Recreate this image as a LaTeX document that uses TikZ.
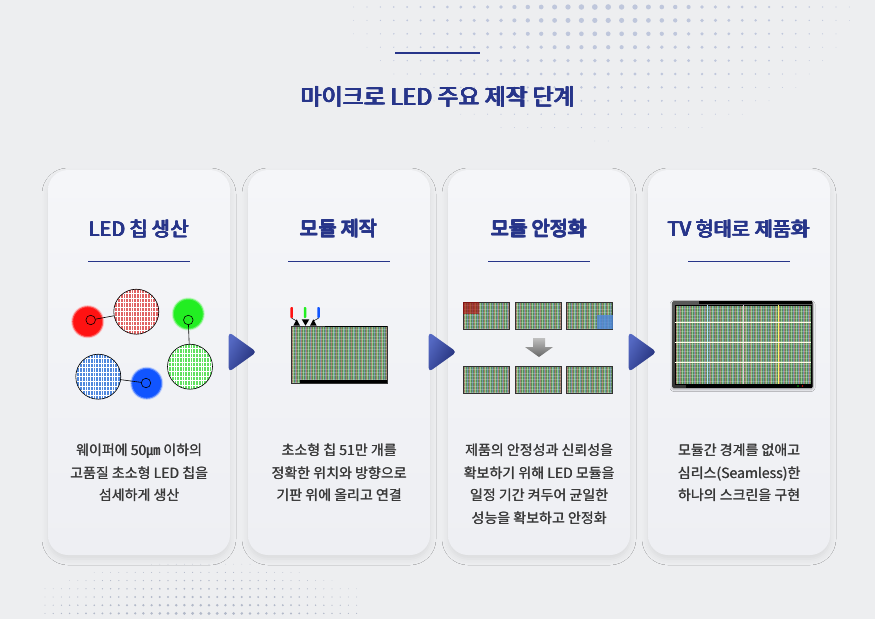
\documentclass[tikz,border=0pt]{standalone}
\usepackage{fontspec}
\setmainfont{Noto Sans CJK KR}
\usetikzlibrary{positioning,calc,shapes.geometric,shadows.blur}

% heavier strokes: text laid over itself, shifted by #1 across and #2 up
\newcommand\heavy[3]{\leavevmode\rlap{#3}\rlap{\hspace{.5\dimexpr#1\relax}#3}\rlap{\hspace{#1}#3}%
  \rlap{\raisebox{#2}{#3}}\rlap{\hspace{.5\dimexpr#1\relax}\raisebox{#2}{#3}}%
  \rlap{\hspace{#1}\raisebox{#2}{#3}}\hspace{#1}\phantom{#3}}

\definecolor{navy}{HTML}{27358A}
\definecolor{arrowlight}{HTML}{5468C2}
\definecolor{bgcol}{HTML}{EDEEF0}
\definecolor{cardtop}{HTML}{F5F6F9}
\definecolor{cardbot}{HTML}{EEEFF3}
\definecolor{dotcol}{HTML}{BFC7DC}
\definecolor{txtcol}{HTML}{383838}
\definecolor{panelcol}{HTML}{5A8858}
\definecolor{stripeR}{HTML}{A57E6C}
\definecolor{stripeG}{HTML}{8CC68A}
\definecolor{stripeB}{HTML}{7192AC}
\definecolor{dotR}{HTML}{FF1212}
\definecolor{dotG}{HTML}{22EE22}
\definecolor{dotB}{HTML}{1155FF}
\definecolor{wafR}{HTML}{E06464}
\definecolor{wafG}{HTML}{60E060}
\definecolor{wafB}{HTML}{4F88DD}

\begin{document}
\begin{tikzpicture}
  [x=1pt,y=-1pt,
   card/.style={rectangle,rounded corners=20pt,minimum width=182pt,minimum height=385pt,
     top color=cardtop,bottom color=cardbot,
     blur shadow={shadow xshift=0pt,shadow yshift=-4pt,shadow blur radius=6pt,shadow opacity=8}},
   cardtitle/.style={font=\fontsize{19.8}{21}\selectfont,text=navy,inner sep=0pt},
   cardtext/.style={font=\fontsize{14}{22.5}\selectfont,text=txtcol,align=center,
     anchor=north,inner sep=0pt},
   steparrow/.style={isosceles triangle,isosceles triangle stretches,minimum width=40pt,
     minimum height=28pt,inner sep=0pt,rounded corners=4pt,
     top color=arrowlight,bottom color=navy!85!black,shading angle=60},
   ledwafer/.style={circle,inner sep=0pt,minimum size=45pt,draw=black,line width=0.6pt,fill=#1,
     path picture={
       \foreach \k in {-9,...,9}
         \draw[white,line width=0.5pt] ([xshift=\k*2.7pt]path picture bounding box.north)
           -- ([xshift=\k*2.7pt]path picture bounding box.south);
       \foreach \k in {-5,...,5}
         \draw[white,line width=0.6pt] ([yshift=\k*4.6pt]path picture bounding box.west)
           -- ([yshift=\k*4.6pt]path picture bounding box.east);}},
   leddot/.style={circle,inner sep=0pt,minimum size=31pt,fill=#1,draw=#1!45!white,
     line width=2pt,draw opacity=0.5},
   ledring/.style={circle,inner sep=0pt,minimum size=9.5pt,draw=black,line width=0.6pt},
   ledbar/.style={rectangle,inner sep=0pt,minimum width=2.5pt,minimum height=11pt,fill=#1,
     rounded corners=0.8pt},
   link/.style={draw=black,line width=0.6pt},
   ledpanel/.style={rectangle,inner sep=0pt,draw=black!80,line width=0.9pt,fill=panelcol,
     path picture={
       \foreach \k in {0,...,85}{
         \pgfmathtruncatemacro\stripe{mod(\k,3)}
         \ifcase\stripe \def\stripecol{stripeR}\or \def\stripecol{stripeG}\else \def\stripecol{stripeB}\fi
         \draw[\stripecol,line width=0.6pt] ([xshift=\k*1.65pt+0.8pt]path picture bounding box.north west)
           -- ([xshift=\k*1.65pt+0.8pt]path picture bounding box.south west);}
       \foreach \k in {1,...,28}
         \draw[white,opacity=0.22,line width=0.45pt] ([yshift=-\k*3.3pt]path picture bounding box.north west)
           -- ([yshift=-\k*3.3pt]path picture bounding box.north east);}},
   tvbezel/.style={rectangle,inner sep=0pt,minimum width=141pt,minimum height=87pt,
     rounded corners=1.5pt,top color=black!65,bottom color=black!80,
     blur shadow={shadow xshift=0pt,shadow yshift=-1.5pt,shadow blur radius=2pt,shadow opacity=30}}]

  % background and dots
  \useasboundingbox (0,0) rectangle (875,619);
  \fill[bgcol] (0,0) rectangle (875,619);
  \foreach \i in {0,...,44}{
    \foreach \j in {0,...,11}{
      \pgfmathsetmacro\dx{300+13.4*\i}
      \pgfmathsetmacro\dy{7+13.4*\j}
      \pgfmathsetmacro\rr{3*(1-sqrt(((\dx-600)/290)*((\dx-600)/290)+(\dy/160)*(\dy/160)))}
      \ifdim\rr pt>0.35pt \fill[dotcol] (\dx,\dy) circle (\rr pt); \fi
    }
  }
  \foreach \i in {0,...,38}{
    \foreach \j in {0,...,8}{
      \pgfmathsetmacro\dx{45+8.2*\i}
      \pgfmathsetmacro\dy{556+8.2*\j}
      \pgfmathsetmacro\rr{1.9*(1-sqrt(((\dx-200)/230)*((\dx-200)/230)+((625-\dy)/75)*((625-\dy)/75)))}
      \ifdim\rr pt>0.3pt \fill[dotcol!80!gray] (\dx,\dy) circle (\rr pt); \fi
    }
  }

  % title
  \draw[navy,line width=2.6pt] (395,53) -- (480,53);
  \node[font=\fontsize{23}{25}\selectfont,text=navy,inner sep=0pt] (title) at (438,97)
    {\heavy{1.4pt}{0.6pt}{마이크로 LED 주요 제작 단계}};

  % cards
  \foreach \n/\cx/\ttl/\dsc in {
      1/139/{LED 칩 생산}/{웨이퍼에 50㎛ 이하의\\고품질 초소형 LED 칩을\\섬세하게 생산},
      2/339/{모듈 제작}/{초소형 칩 51만 개를\\정확한 위치와 방향으로\\기판 위에 올리고 연결},
      3/539/{모듈 안정화}/{제품의 안정성과 신뢰성을\\확보하기 위해 LED 모듈을\\일정 기간 켜두어 균일한\\성능을 확보하고 안정화},
      4/739/{TV 형태로 제품화}/{모듈간 경계를 없애고\\심리스(Seamless)한\\하나의 스크린을 구현}}{
    \node[card] (c\n) at (\cx,362.5) {};
    \node[cardtitle] (t\n) at ([yshift=-59pt]c\n.north) {\heavy{1.1pt}{0.45pt}{\ttl}};
    \draw[navy,line width=1.2pt] ([xshift=-51pt,yshift=-92pt]c\n.north)
      -- ([xshift=51pt,yshift=-92pt]c\n.north);
    \node[cardtext] (d\n) at ([yshift=-274pt]c\n.north) {\dsc};
    \node[cardtext] (d\n b) at ([xshift=0.4pt]d\n.north) {\dsc};
  }
  \foreach \from/\to in {c1/c2,c2/c3,c3/c4}
    \node[steparrow] (\from\to) at ([yshift=10.5pt]$(\from.east)!0.5!(\to.west)$) {};

  % LED chips
  \node[leddot=dotR] (dr) at (87.7,321.7) {};
  \node[ledring] (rr) at (90.7,320) {};
  \node[ledwafer=wafR] (wr) at (136.3,311.7) {};
  \node[leddot=dotG] (dg) at (188.3,314) {};
  \node[ledring] (rg) at (188.3,320) {};
  \node[ledwafer=wafG] (wg) at (190,366.7) {};
  \node[ledwafer=wafB] (wb) at (98.3,376.7) {};
  \node[leddot=dotB] (db) at (146.7,383.3) {};
  \node[ledring] (rb) at (146,383) {};
  \foreach \from/\to in {rr/wr,rg/wg,wb/rb}
    \draw[link] (\from) -- (\to);

  % module
  \node[ledpanel,minimum width=96pt,minimum height=57pt] (mod) at (339,354.5) {};
  \fill[black] ([xshift=-62pt]mod.north east) rectangle ([yshift=-1.8pt]mod.north east);
  \fill[black] ([xshift=9pt]mod.south west) rectangle ([yshift=3pt]mod.south east);
  \node[ledbar=dotR] (br) at (291.7,312.5) {};
  \node[ledbar=dotG] (bg) at (305,312.5) {};
  \node[ledbar=dotB] (bb) at (318.5,312.5) {};
  \coordinate (ta) at (296.7,321);
  \coordinate (tc) at (313.3,321);
  \fill[black] (293.3,325.7) -- (296.7,319.3) -- (300,325.7) -- cycle;
  \fill[black] (301.7,319.3) -- (309.3,319.3) -- (305.5,325.7) -- cycle;
  \fill[black] (310,325.7) -- (313.3,319.3) -- (316.7,325.7) -- cycle;
  \draw[black,line width=0.5pt] (br.south) -- (ta);
  \draw[black,line width=0.5pt] (bb.south) -- (tc);

  % stabilization
  \foreach \n/\x/\y in {1/486.3/315.8,2/538/315.8,3/589.7/315.8,
                        4/486.3/379.7,5/538/379.7,6/589.7/379.7}
    \node[ledpanel,minimum width=46pt,minimum height=27pt] (m\n) at (\x,\y) {};
  \fill[red!70!black,opacity=0.6] ([shift={(0.5pt,-0.5pt)}]m1.north west)
    rectangle ([xshift=16pt,yshift=-12pt]m1.north west);
  \fill[wafB,opacity=0.8] ([shift={(-0.5pt,0.5pt)}]m3.south east)
    rectangle ([xshift=-16pt,yshift=15pt]m3.south east);
  \shade[top color=black!25,bottom color=black!60]
    (533,338) -- (545,338) -- (545,347) -- (553,347) -- (539,357) -- (525,347) -- (533,347) -- cycle;

  % TV
  \node[tvbezel] (tv) at (742.5,344.5) {};
  \node[ledpanel,minimum width=136pt,minimum height=79pt,draw=black] (scr) at (743,344.5) {};
  \fill[black] ([xshift=-114pt]tv.north east) rectangle ([shift={(-1pt,-3.5pt)}]tv.north east);
  \fill[black] ([xshift=14pt,yshift=0.5pt]tv.south west) rectangle ([shift={(-1pt,3.5pt)}]tv.south east);
  \foreach \f/\c in {0.24/cyan!30!white,0.5/violet!25!white,0.76/yellow!60!white}
    \draw[\c,line width=1pt] ($(scr.north west)!\f!(scr.north east)$) -- ($(scr.south west)!\f!(scr.south east)$);
  \foreach \f in {0.225,0.48,0.73}
    \draw[white!90!yellow,line width=1pt] ($(scr.north west)!\f!(scr.south west)$) -- ($(scr.north east)!\f!(scr.south east)$);
  \fill[green!70!black] (798,386) circle (0.8pt);
  \fill[red!80!black] (802.5,386) circle (0.8pt);
\end{tikzpicture}
\end{document}
